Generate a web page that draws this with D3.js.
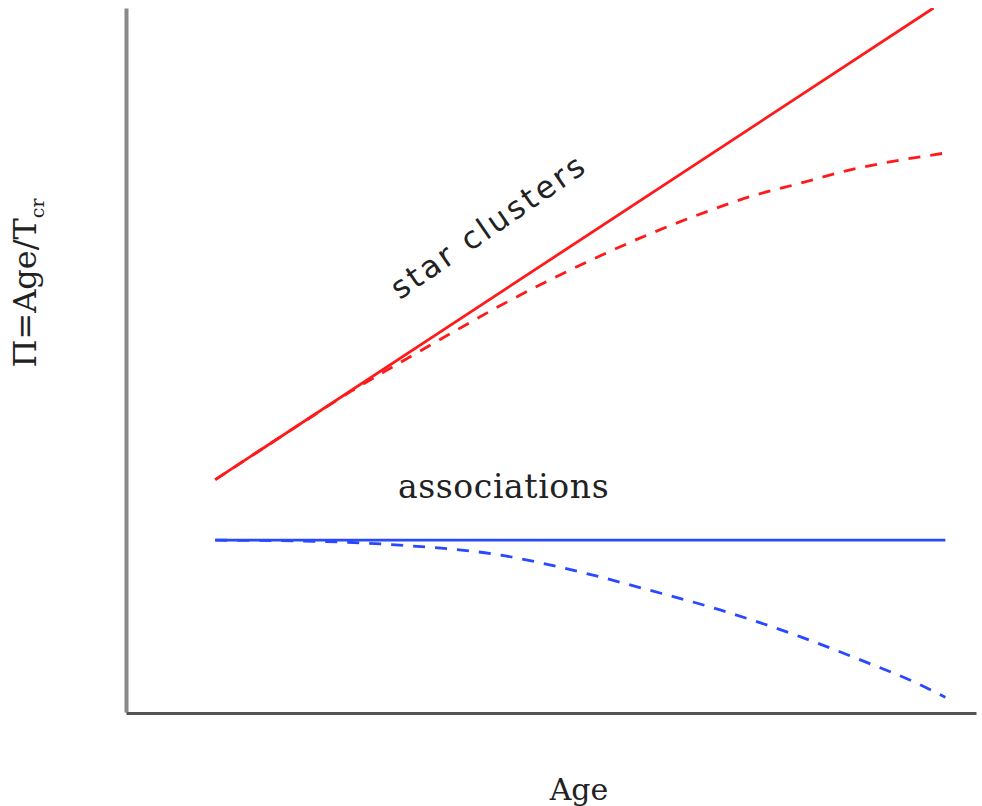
<!DOCTYPE html>
<html>
<head>
<meta charset="utf-8">
<script src="https://cdn.jsdelivr.net/npm/d3@7"></script>
<style>
body{margin:0;background:#fff;}
</style>
</head>
<body>
<div class="chart"></div>
<script>
// Age values (arbitrary units) and Π for each curve
var clusterAge=[1.05,9.5];
var clusterPi=[3.30,10.0];
var clusterDashAge=[1.05,2.05,2.64,3.22,3.81,4.40,4.99,5.58,6.16,6.75,7.34,7.93,8.52,9.11,9.64];
var clusterDashPi=[3.30,4.09,4.55,4.96,5.37,5.77,6.14,6.48,6.79,7.07,7.32,7.51,7.70,7.84,7.94];
var assocAge=[1.05,9.64];
var assocPi=[2.44,2.44];
var assocDashAge=[1.05,2.05,3.22,4.40,5.34,6.16,6.99,7.93,8.64,9.32,9.64];
var assocDashPi=[2.44,2.43,2.37,2.23,1.99,1.73,1.45,1.07,0.74,0.40,0.21];

var width=982,height=806;
var svg=d3.select('div.chart')
		.append('svg')
		.attr('width',width)
		.attr('height',height);

var x=d3.scaleLinear().domain([0,10]).range([126,976]);
var y=d3.scaleLinear().domain([0,10]).range([712,8]);

function pts(a,b){
	return a.map(function(v,i){return [v,b[i]];});
}
var line=d3.line()
		.x(function(d){return x(d[0]);})
		.y(function(d){return y(d[1]);})
		.curve(d3.curveMonotoneX);

svg.append('clipPath').attr('id','plot')
	.append('rect')
	.attr('x',x(0)).attr('y',y(10))
	.attr('width',x(10)-x(0)).attr('height',y(0)-y(10));

var g=svg.append('g').attr('clip-path','url(#plot)');

//curves
var curves=[
	{d:pts(clusterDashAge,clusterDashPi),c:'#ff1a1a',dash:'12,10'},
	{d:pts(clusterAge,clusterPi),c:'#ff1a1a',dash:null},
	{d:pts(assocDashAge,assocDashPi),c:'#2a48ff',dash:'12,10'},
	{d:pts(assocAge,assocPi),c:'#2a48ff',dash:null}
];
g.selectAll('path.curve')
	.data(curves)
	.enter()
	.append('path')
	.attr('class','curve')
	.attr('d',function(d){return line(d.d);})
	.attr('fill','none')
	.attr('stroke',function(d){return d.c;})
	.attr('stroke-width',2.8)
	.attr('stroke-dasharray',function(d){return d.dash;});

//axes, no ticks
var ax=svg.append('g')
	.attr('transform','translate('+x(0)+',0)')
	.call(d3.axisLeft(y).tickValues([]).tickSizeOuter(0));
ax.select('.domain').attr('stroke','#8a8a8a').attr('stroke-width',4);
var bx=svg.append('g')
	.attr('transform','translate(0,'+(y(0)+1)+')')
	.call(d3.axisBottom(x).tickValues([]).tickSizeOuter(0));
bx.select('.domain').attr('stroke','#555').attr('stroke-width',3);

//labels
svg.append('text')
	.attr('transform','translate('+x(3.22)+','+y(5.85)+') rotate(-34.5)')
	.style('font-family','DejaVu Sans, sans-serif')
	.style('font-size','31px')
	.style('letter-spacing','3px')
	.attr('fill','#222')
	.text('star clusters');

svg.append('text')
	.attr('x',x(3.2)).attr('y',y(3.04))
	.style('font-family','DejaVu Serif, serif')
	.style('font-size','33px')
	.style('letter-spacing','0.6px')
	.attr('fill','#222')
	.text('associations');

svg.append('text')
	.attr('x',579).attr('y',800)
	.attr('text-anchor','middle')
	.style('font-family','DejaVu Serif, serif')
	.style('font-size','30px')
	.attr('fill','#222')
	.text('Age');

var yl=svg.append('text')
	.attr('transform','translate(36,283) rotate(-90)')
	.attr('text-anchor','middle')
	.style('font-family','DejaVu Serif, serif')
	.style('font-size','32px')
	.attr('fill','#222');
yl.append('tspan').text('\u03A0=Age/T');
yl.append('tspan').attr('dy',8).style('font-size','19px').text('cr');
</script>
</body>
</html>
